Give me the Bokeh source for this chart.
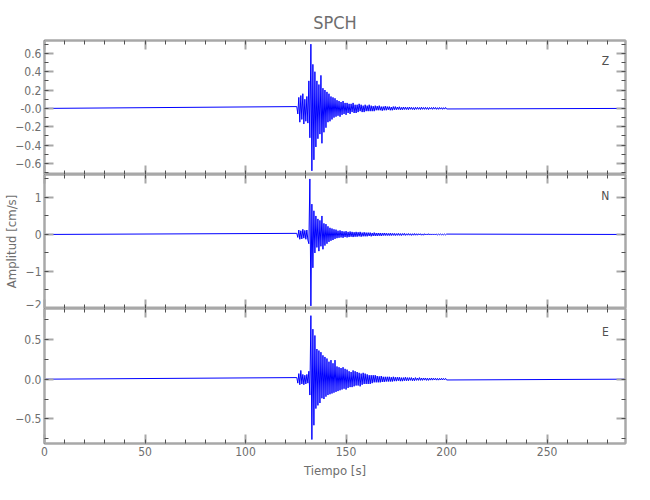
import numpy as np
from bokeh.plotting import figure
from bokeh.layouts import column
from bokeh.models import Range1d, LinearAxis, SingleIntervalTicker, Label
from bokeh.embed import file_html
from bokeh.resources import INLINE

# ---------------- data ----------------
title_text = "SPCH"
components = ["Z", "N", "E"]
x_label = "Tiempo [s]"
y_label = "Amplitud [cm/s]"
record_start = 0.0
record_end = 289.0
active_start = 125.5      # first sample of the active part [s]
active_step = 0.5         # sample spacing of the active part [s]

# Z component [cm/s], samples every 0.5 s from 125.5 s to 200 s
z_vals = [
    0.02, -0.06, 0.12, -0.15, 0.14, -0.12, 0.16, -0.17, 0.10, -0.14,
    0.13, -0.16, 0.30, -0.32, 0.70, -0.68, 0.48, -0.56, 0.40, -0.42,
    0.30, -0.33, 0.26, -0.28, 0.36, -0.38, 0.22, -0.26, 0.20, -0.21,
    0.18, -0.15, 0.16, -0.14, 0.13, -0.12, 0.12, -0.10, 0.11, -0.09,
    0.09, -0.08, 0.08, -0.09, 0.07, -0.07, 0.08, -0.06, 0.06, -0.07,
    0.06, -0.05, 0.05, -0.06, 0.05, -0.04, 0.06, -0.05, 0.04, -0.05,
    0.04, -0.04, 0.05, -0.03, 0.04, -0.04, 0.03, -0.04, 0.04, -0.03,
    0.03, -0.03, 0.04, -0.03, 0.03, -0.03, 0.025, -0.03, 0.03, -0.02,
    0.025, -0.02, 0.03, -0.02, 0.02, -0.025, 0.02, -0.02, 0.025, -0.02,
    0.02, -0.015, 0.02, -0.02, 0.015, -0.02, 0.02, -0.015, 0.02, -0.015,
    0.015, -0.012, 0.018, -0.015, 0.012, -0.015, 0.015, -0.012, 0.014, -0.012,
    0.012, -0.014, 0.015, -0.01, 0.012, -0.012, 0.01, -0.014, 0.012, -0.01,
    0.012, -0.01, 0.01, -0.012, 0.014, -0.01, 0.01, -0.01, 0.012, -0.01,
    0.01, -0.012, 0.01, -0.008, 0.01, -0.01, 0.012, -0.008, 0.01, -0.01,
    0.008, -0.01, 0.01, -0.008, 0.008, -0.01, 0.008, -0.008, 0.01, -0.006,
]

# N component [cm/s]
n_vals = [
    0.03, -0.08, 0.12, -0.13, 0.10, -0.12, 0.14, -0.10, 0.11, -0.13,
    0.12, -0.15, -0.25, 1.50, -1.93, 0.82, -0.90, 0.64, -0.50, 0.50,
    -0.35, 0.42, -0.45, 0.38, -0.32, 0.50, -0.40, 0.30, -0.30, 0.28,
    -0.25, 0.22, -0.20, 0.18, -0.17, 0.16, -0.15, 0.14, -0.12, 0.13,
    -0.10, 0.10, -0.09, 0.11, -0.08, 0.09, -0.09, 0.08, -0.07, 0.09,
    -0.08, 0.07, -0.07, 0.08, -0.06, 0.07, -0.07, 0.06, -0.06, 0.07,
    -0.06, 0.06, -0.05, 0.07, -0.06, 0.05, -0.05, 0.06, -0.05, 0.05,
    -0.05, 0.05, -0.04, 0.05, -0.05, 0.04, -0.04, 0.05, -0.04, 0.04,
    -0.04, 0.04, -0.035, 0.04, -0.04, 0.035, -0.03, 0.04, -0.03, 0.035,
    -0.03, 0.03, -0.03, 0.035, -0.03, 0.03, -0.025, 0.03, -0.03, 0.025,
    -0.025, 0.03, -0.025, 0.025, -0.03, 0.025, -0.02, 0.03, -0.025, 0.02,
    -0.02, 0.025, -0.02, 0.02, -0.025, 0.02, -0.02, 0.025, -0.02, 0.02,
    -0.02, 0.02, -0.015, 0.02, -0.02, 0.015, -0.02, 0.02, -0.015, 0.015,
    -0.015, 0.02, -0.015, 0.015, -0.015, 0.015, -0.012, 0.015, -0.015, 0.012,
    -0.012, 0.015, -0.012, 0.012, -0.015, 0.012, -0.01, 0.012, -0.012, 0.01,
]

# E component [cm/s]
e_vals = [
    0.02, -0.05, 0.07, -0.07, 0.11, -0.06, 0.06, -0.07, 0.05, -0.06,
    0.06, -0.05, 0.10, -0.20, 0.80, -0.76, 0.63, -0.58, 0.55, -0.37,
    0.38, -0.33, 0.36, -0.30, 0.34, -0.24, 0.30, -0.25, 0.28, -0.22,
    0.26, -0.20, 0.22, -0.19, 0.24, -0.18, 0.20, -0.17, 0.24, -0.16,
    0.16, -0.15, 0.15, -0.14, 0.14, -0.13, 0.15, -0.12, 0.13, -0.13,
    0.12, -0.11, 0.10, -0.10, 0.09, -0.10, 0.11, -0.09, 0.10, -0.08,
    0.09, -0.08, 0.08, -0.09, 0.07, -0.07, 0.08, -0.06, 0.07, -0.06,
    0.06, -0.06, 0.05, -0.06, 0.05, -0.05, 0.05, -0.04, 0.05, -0.04,
    0.04, -0.04, 0.035, -0.04, 0.04, -0.035, 0.03, -0.035, 0.03, -0.03,
    0.03, -0.03, 0.03, -0.03, 0.025, -0.03, 0.03, -0.025, 0.025, -0.025,
    0.025, -0.02, 0.025, -0.025, 0.02, -0.025, 0.02, -0.02, 0.025, -0.02,
    0.02, -0.02, 0.02, -0.015, 0.02, -0.02, 0.015, -0.02, 0.02, -0.015,
    0.015, -0.015, 0.02, -0.015, 0.015, -0.015, 0.015, -0.012, 0.015, -0.015,
    0.012, -0.015, 0.012, -0.012, 0.015, -0.012, 0.012, -0.01, 0.012, -0.012,
    0.01, -0.012, 0.01, -0.01, 0.012, -0.01, 0.01, -0.008, 0.01, -0.01,
]

# axis limits / tick intervals per panel
z_yrange = (-0.72, 0.74)
n_yrange = (-2.0, 1.62)
e_yrange = (-0.81, 0.89)
z_tick = 0.2
n_tick = 1.0
e_tick = 0.5
x_tick = 50

# ---------------- styling ----------------
FONT = "Liberation Sans Narrow, DejaVu Sans Condensed, sans-serif"
AX_GREY = "#a8a8a8"
TXT_GREY = "#6e6e6e"
MINOR = "#505050"
BLUE = "#0000ff"
B_LEFT = 44
B_RIGHT = 7
FRAME_W = 581
WIDTH = B_LEFT + FRAME_W + B_RIGHT


def trace_xy(vals):
    n = len(vals)
    t = active_start + active_step * np.arange(n)
    x = np.concatenate([[record_start], t, [record_end]])
    y = np.concatenate([[0.0], np.array(vals), [0.0]])
    return x, y


def style_axis(ax, show_labels):
    ax.axis_line_color = AX_GREY
    ax.axis_line_width = 2
    ax.major_tick_line_color = AX_GREY
    ax.major_tick_line_width = 2
    ax.major_tick_in = 9
    ax.major_tick_out = 0
    ax.minor_tick_line_color = MINOR
    ax.minor_tick_line_width = 1
    ax.minor_tick_in = 4
    ax.minor_tick_out = 0
    ax.major_label_text_font = FONT
    ax.major_label_text_color = TXT_GREY
    ax.major_label_text_font_size = "12px"
    ax.axis_label_text_font = FONT
    ax.axis_label_text_color = TXT_GREY
    ax.axis_label_text_font_size = "13px"
    ax.axis_label_text_font_style = "normal"
    if show_labels:
        ax.major_label_standoff = 3
    else:
        ax.major_label_text_font_size = "0px"
        ax.major_label_text_color = None
        ax.major_label_standoff = 0


def make_panel(vals, yr, ytick, comp, label_y, frame_h, top=False, bottom=False,
               overrides=None, ylab=None):
    b_top = 40 if top else 0
    b_bot = 36 if bottom else 0
    p = figure(width=WIDTH, height=b_top + frame_h + b_bot,
               x_range=Range1d(record_start, record_end), y_range=Range1d(*yr),
               output_backend="svg", toolbar_location=None,
               x_axis_location=None, y_axis_location=None,
               min_border_left=B_LEFT, min_border_right=B_RIGHT,
               min_border_top=b_top, min_border_bottom=b_bot)
    p.grid.visible = False
    p.outline_line_color = AX_GREY
    p.outline_line_width = 2
    p.background_fill_color = "white"
    p.border_fill_color = "white"

    xt = SingleIntervalTicker(interval=x_tick, num_minor_ticks=5)
    yt = SingleIntervalTicker(interval=ytick, num_minor_ticks=2)

    left = LinearAxis(ticker=yt)
    style_axis(left, True)
    if overrides:
        left.major_label_overrides = overrides
    if ylab:
        left.axis_label = ylab
        left.axis_label_standoff = 4
    p.add_layout(left, "left")

    right = LinearAxis(ticker=yt)
    style_axis(right, False)
    p.add_layout(right, "right")

    above = LinearAxis(ticker=xt)
    style_axis(above, False)
    p.add_layout(above, "above")

    below = LinearAxis(ticker=xt)
    style_axis(below, bottom)
    if bottom:
        below.axis_label = x_label
        below.axis_label_standoff = 4
    p.add_layout(below, "below")

    x, y = trace_xy(vals)
    p.line(x, y, line_color=BLUE, line_width=1)

    p.add_layout(Label(x=279, y=label_y, text=comp, text_font=FONT,
                       text_font_size="12px", text_color="#505050",
                       text_align="center", text_baseline="middle"))
    if top:
        p.title.text = title_text
        p.title.align = "center"
        p.title.text_font = FONT
        p.title.text_font_size = "18px"
        p.title.text_font_style = "normal"
        p.title.text_color = TXT_GREY
        p.title.standoff = 15
    return p


p1 = make_panel(z_vals, z_yrange, z_tick, components[0], 0.52, 134, top=True,
                overrides={0: "-0.0"})
p2 = make_panel(n_vals, n_yrange, n_tick, components[1], 1.05, 134, ylab=y_label)
p3 = make_panel(e_vals, e_yrange, e_tick, components[2], 0.6, 136, bottom=True,
                overrides={0: "0.0"})

layout = column(p1, p2, p3, spacing=0)
open("out.html", "w").write(file_html(layout, INLINE))
